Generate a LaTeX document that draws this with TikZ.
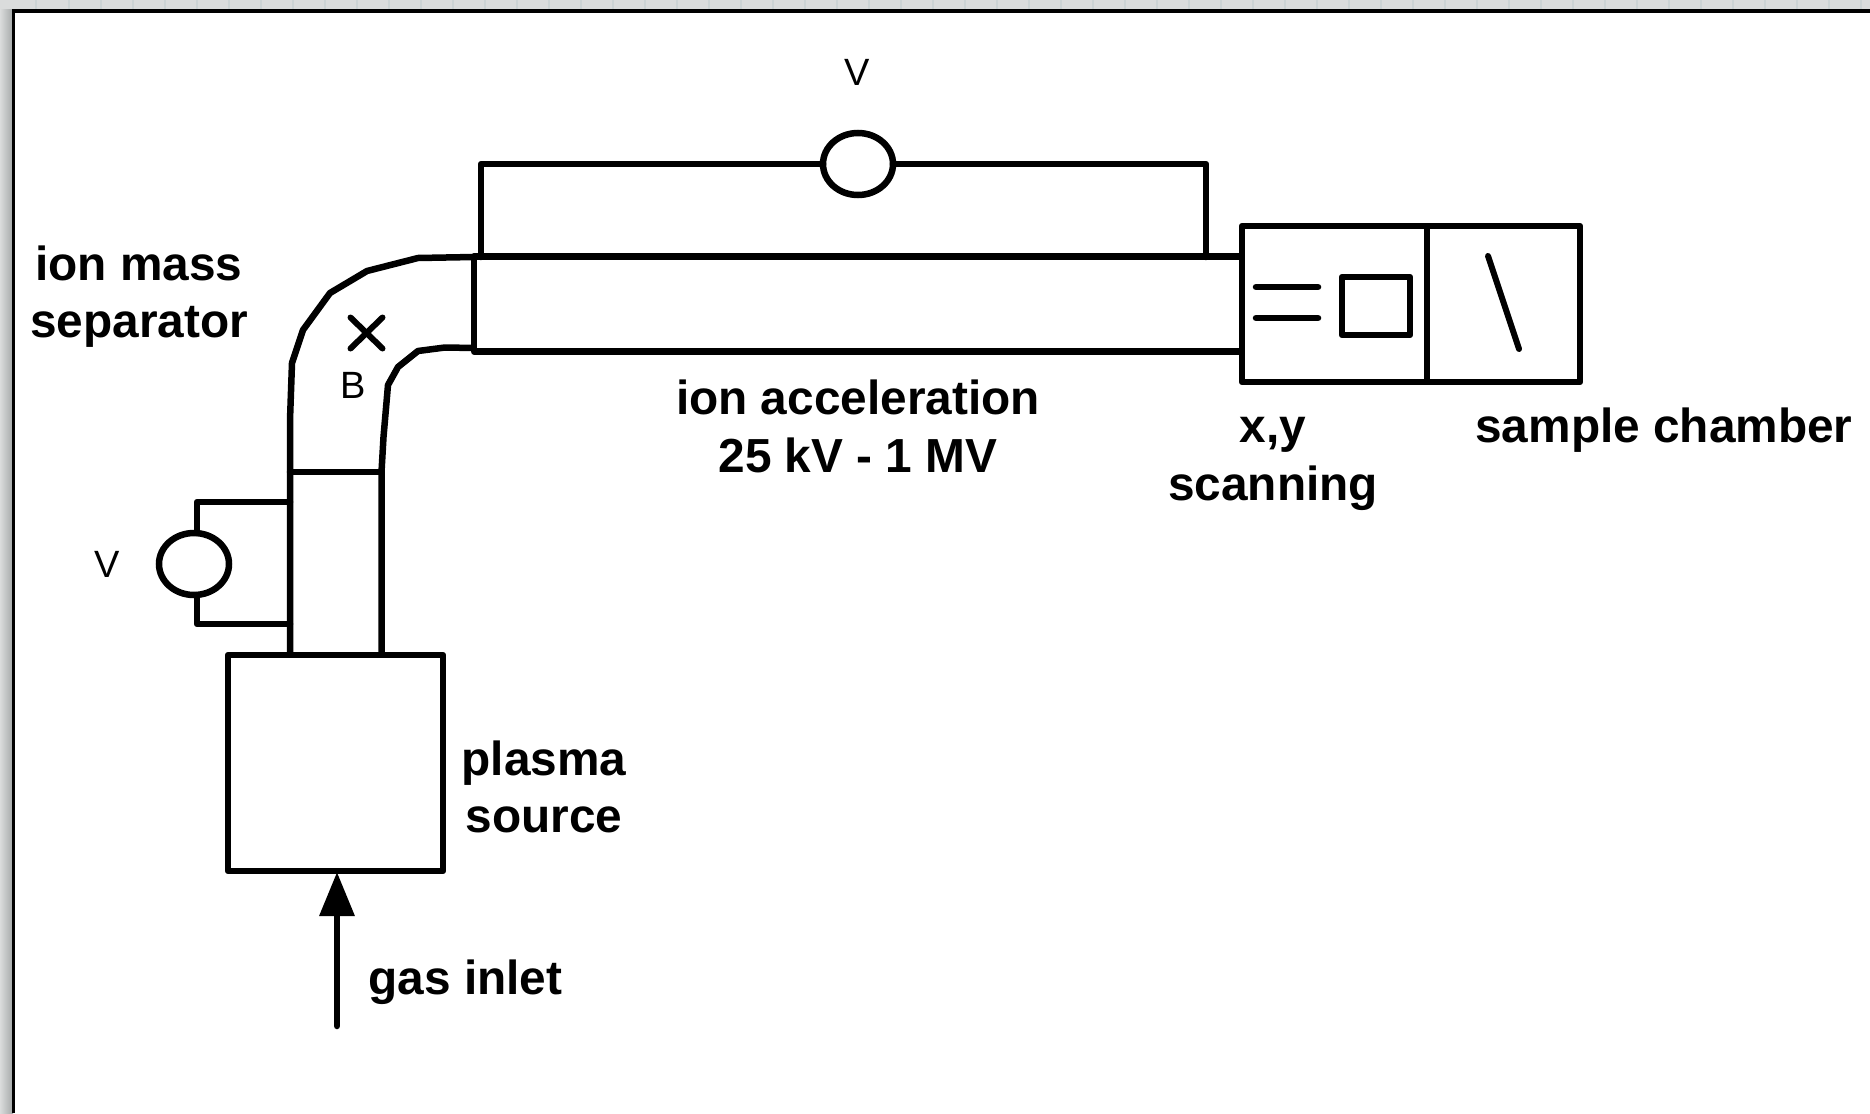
\documentclass[tikz,border=0pt]{standalone}
\usepackage{fontspec}
\setmainfont{Liberation Sans}
\usetikzlibrary{shapes.geometric,arrows.meta}
\definecolor{stripc}{HTML}{DADCDC}
\definecolor{gridc}{HTML}{CCD3D4}
\definecolor{shadec}{HTML}{A4A8A8}
\tikzset{
  x=1pt,y=-1pt,
  wire/.style={line width=6.5pt,line join=round,line cap=round,black},
  thinw/.style={line width=6pt,line cap=round,black},
  boxn/.style={draw=black,line width=6.5pt,fill=white,rectangle,inner sep=0pt,outer sep=0pt,line join=round,anchor=north west},
  meter/.style={draw=black,line width=6.5pt,fill=white,ellipse,inner sep=0pt,outer sep=0pt,minimum width=70pt,minimum height=62pt},
  boldlabel/.style={font=\fontsize{47.8}{57.5}\selectfont\bfseries,align=center,text=black,inner sep=0pt},
  symlabel/.style={font=\fontsize{38}{44}\selectfont,text=black,inner sep=0pt},
}
\begin{document}
\begin{tikzpicture}
\useasboundingbox (0,0) rectangle (1870,1113);
% surrounding canvas
\fill[stripc] (0,0) rectangle (1870,1113);
\foreach \gx in {35,68,100,132,164,196,228,260,292,324,356,388,420,452,484,516,548,580,612,644,676,708,740,772,804,836,868,900,932,964,996,1028,1060,1092,1124,1156,1188,1220,1252,1284,1316,1348,1380,1412,1444,1476,1508,1540,1572,1604,1636,1668,1700,1732,1764,1796,1828,1860}
  \fill[gridc] (\gx,0) rectangle ++(1.5,10);
\shade[left color=stripc,right color=shadec] (0,10) rectangle (13,1113);
% sheet
\fill[white] (13,11) rectangle (1870,1113);
\draw[line width=3.5pt,black] (13.5,1113) -- (13.5,11) -- (1870,11);

% bent tube
\coordinate (oA) at (474,257);
\coordinate (iA) at (474,348);
\coordinate (oB) at (290,655);
\coordinate (iB) at (381.5,655);
\draw[wire] (oA) -- (418,258) -- (367,271) -- (330,293) -- (303,330) -- (292,363) -- (290,420) -- (oB);
\draw[wire] (iA) -- (445,347.5) -- (418,351) -- (398,367) -- (388,385) -- (383.5,437) -- (381.5,472) -- (iB);
\draw[wire] (290,472) -- (381.5,472);

% main tube
\node[boxn,minimum width=768pt,minimum height=95pt] (tube) at (474,256.5) {};
% chambers
\node[boxn,minimum width=185pt,minimum height=156pt] (scan) at (1242,226) {};
\node[boxn,minimum width=153pt,minimum height=156pt] (sample) at (1427,226) {};
\node[boxn,minimum width=68pt,minimum height=58pt] (target) at (1342,277) {};
\node[boxn,minimum width=215pt,minimum height=216pt] (plasma) at (228,655) {};

% scan plates, sample, cross
\coordinate (p1a) at (1256,287); \coordinate (p1b) at (1318,287);
\coordinate (p2a) at (1256,318); \coordinate (p2b) at (1318,318);
\draw[wire] (p1a) -- (p1b);
\draw[wire] (p2a) -- (p2b);
\coordinate (s1) at (1488,256); \coordinate (s2) at (1519,349);
\draw[thinw] (s1) -- (s2);
\coordinate (c1) at (350.5,317.5); \coordinate (c2) at (382.5,348.5);
\coordinate (c3) at (382.5,317.5); \coordinate (c4) at (350.5,348.5);
\draw[thinw] (c1) -- (c2);
\draw[thinw] (c3) -- (c4);

% top voltage loop
\node[meter] (vtop) at (858,164) {};
\coordinate (t1) at (481,257); \coordinate (t2) at (1206,257);
\draw[wire] (t1) |- (vtop.west);
\draw[wire] (t2) |- (vtop.east);

% left voltage loop
\coordinate (l1) at (290,502); \coordinate (l2) at (290,624);
\node[meter] (vleft) at (194,564) {};
\coordinate (lt) at (197,502); \coordinate (lb) at (197,624);
\draw[wire] (l1) -- (lt) -- (lt |- vleft.north);
\draw[wire] (l2) -- (lb) -- (lb |- vleft.south);

% gas inlet arrow
\coordinate (gas) at (337,1026);
\coordinate (plasmaIn) at (337,872);
\draw[line width=6.5pt,line cap=round,black,-{Triangle[length=44pt,width=34pt]}] (gas) -- (plasmaIn);

% labels
\node[symlabel,anchor=base] (v1) at (857,86) {V};
\node[symlabel,anchor=base] (v2) at (107,577) {V};
\node[symlabel,anchor=base] (b) at (353,398) {B};
\node[boldlabel] (lsep) at (139,296.5) {ion mass\\separator};
\node[boldlabel] (lacc) at (858,426.5) {ion acceleration\\25 kV - 1 MV};
\node[boldlabel] (lscan) at (1273,464) {x,y\\scanning};
\node[boldlabel] (lsamp) at (1664,430) {sample chamber};
\node[boldlabel] (lplas) at (544,787) {plasma\\source};
\node[boldlabel] (lgas) at (465.5,982.5) {gas inlet};
\end{tikzpicture}
\end{document}
